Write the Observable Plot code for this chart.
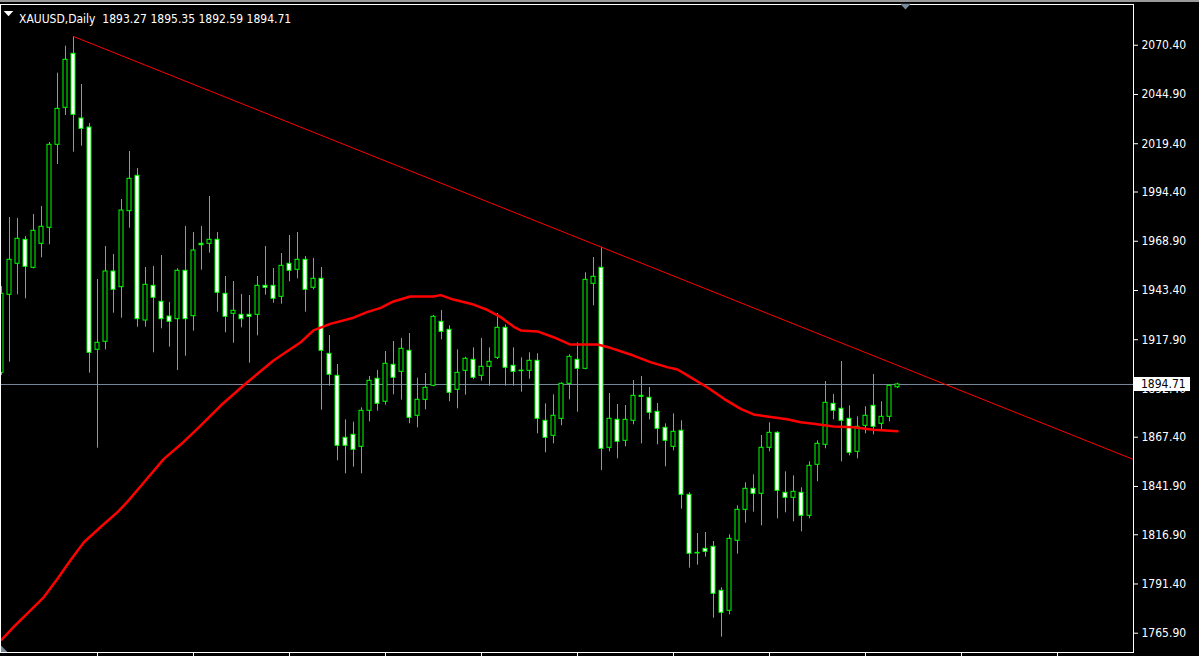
<!DOCTYPE html>
<html><head><meta charset="utf-8">
<script src="https://cdn.jsdelivr.net/npm/d3@7"></script>
<script src="https://cdn.jsdelivr.net/npm/@observablehq/plot@0.6"></script>
<style>
html,body{margin:0;padding:0;background:#000;overflow:hidden;}
#chart{position:absolute;left:0;top:0;}
#strip{position:absolute;left:0;top:0;width:1199px;height:2px;background:#9a9a9a;}
</style></head><body>
<div id="chart"></div><div id="strip"></div>
<script>
const symbol = "XAUUSD,Daily";
const opens = [1900.76,1941.16,1957.22,1969.65,1955.15,1967.57,1975.86,2018.85,2038.01,2065.98,2032.47,2027.81,1912.68,1916.82,1953.23,1945.10,1984.46,2002.79,1927.85,1945.82,1937.54,1929.92,1928.53,1953.59,1930.08,1967.57,1967.57,1969.65,1941.68,1931.32,1930.80,1930.80,1930.80,1945.82,1945.82,1940.13,1957.22,1954.11,1959.29,1944.79,1949.45,1910.61,1899.21,1867.10,1868.66,1862.44,1881.09,1897.66,1885.75,1904.91,1901.28,1912.16,1878.50,1886.78,1894.03,1927.18,1923.04,1891.96,1901.80,1907.50,1899.21,1903.87,1908.53,1924.07,1904.39,1901.90,1901.80,1906.98,1875.91,1868.14,1876.94,1895.07,1907.50,1902.84,1946.86,1955.15,1861.92,1876.42,1865.55,1875.91,1888.85,1887.82,1880.57,1872.28,1862.44,1870.73,1837.58,1807.54,1809.61,1810.65,1787.86,1777.51,1813.76,1829.81,1840.69,1838.10,1861.92,1869.69,1838.62,1836.03,1838.62,1826.71,1853.12,1863.48,1884.71,1882.12,1876.94,1859.85,1873.32,1883.68,1874.35,1877.98,1893.27];
const highs = [1945.46,1981.20,1980.68,1971.36,1982.75,1986.89,2020.04,2055.93,2069.91,2074.94,2050.08,2029.88,1949.09,1966.18,1962.03,1990.52,2015.38,2006.57,1955.30,1955.82,1961.52,1937.17,1954.63,1976.53,1973.43,1976.53,1992.07,1973.43,1950.64,1948.05,1941.32,1940.80,1950.64,1966.18,1954.78,1962.55,1971.87,1973.43,1961.00,1959.96,1955.30,1920.08,1905.06,1876.42,1875.18,1882.64,1898.85,1901.96,1911.80,1916.98,1918.53,1921.12,1897.97,1900.40,1930.44,1933.03,1925.11,1912.68,1908.85,1913.71,1918.53,1913.71,1931.48,1925.62,1913.71,1908.53,1911.12,1910.61,1884.71,1889.37,1895.59,1910.09,1916.30,1952.56,1960.48,1965.81,1890.05,1884.35,1883.83,1896.78,1898.85,1893.15,1884.87,1874.35,1879.53,1875.91,1838.62,1817.54,1818.06,1813.40,1789.42,1816.87,1831.88,1843.80,1847.94,1868.29,1874.87,1870.21,1849.49,1847.42,1841.21,1854.67,1865.55,1896.26,1889.53,1906.62,1883.68,1877.98,1883.16,1899.89,1885.75,1894.55,1895.35];
const lows = [1899.37,1906.26,1941.16,1939.09,1954.63,1960.32,1967.06,2008.64,2034.02,2015.01,2018.12,1900.56,1861.72,1912.68,1931.63,1929.04,1975.65,1924.38,1924.38,1911.12,1923.55,1914.02,1901.96,1909.36,1922.31,1953.90,1962.71,1932.15,1921.48,1916.10,1924.07,1905.74,1919.93,1940.95,1936.81,1936.29,1947.89,1949.45,1932.15,1943.75,1881.40,1893.83,1855.19,1848.46,1851.88,1848.46,1875.39,1880.88,1883.99,1889.37,1886.58,1874.35,1872.28,1881.60,1893.51,1917.85,1885.75,1882.12,1889.16,1897.14,1896.42,1893.83,1907.65,1893.83,1893.83,1890.72,1897.45,1869.17,1859.33,1863.99,1873.32,1886.78,1880.36,1902.32,1935.46,1850.17,1859.85,1856.22,1862.44,1873.83,1863.99,1876.42,1863.48,1852.08,1860.37,1830.12,1799.57,1801.12,1805.27,1773.67,1763.83,1775.43,1806.82,1822.87,1828.57,1821.53,1859.85,1825.15,1828.26,1823.60,1818.42,1825.15,1844.32,1861.41,1876.42,1854.67,1857.78,1856.22,1869.17,1868.66,1871.25,1875.39,1892.59];
const closes = [1941.68,1959.29,1970.17,1955.66,1974.31,1976.38,2018.85,2037.49,2062.87,2034.38,2027.13,1911.12,1916.30,1953.23,1943.75,1984.82,2001.24,1928.53,1946.34,1939.61,1928.53,1927.18,1953.59,1928.53,1964.10,1966.85,1969.65,1942.20,1929.77,1932.88,1928.53,1929.77,1945.82,1944.79,1939.09,1956.18,1953.59,1959.29,1943.75,1949.45,1912.16,1899.73,1862.96,1862.96,1860.89,1881.09,1896.62,1884.71,1905.43,1898.18,1913.20,1877.46,1886.78,1893.00,1929.77,1922.00,1890.41,1900.76,1908.02,1898.18,1903.87,1906.46,1924.07,1903.36,1901.28,1901.60,1906.98,1876.94,1867.10,1878.50,1895.07,1909.05,1902.84,1948.93,1950.48,1861.41,1876.94,1865.03,1876.42,1888.85,1888.33,1880.05,1871.76,1865.55,1870.21,1837.58,1807.03,1807.20,1808.06,1786.31,1776.47,1814.79,1829.81,1840.69,1838.10,1861.92,1869.69,1839.65,1836.03,1839.13,1826.71,1852.60,1863.99,1885.23,1881.09,1875.91,1859.33,1872.80,1878.50,1872.80,1877.98,1894.03,1894.71];
const maIdx = [0,1.5,5.3,7,8.6,10.3,12.6,14.5,15.7,18,20.3,22.4,24.7,27.4,30.5,34,37.4,39,41.1,44,45.7,47.4,49,51.1,54,54.9,56.5,59,60.7,62.4,64,64.9,67,69,70.7,71.1,74.5,76.1,79,81.1,83.2,84.5,86.1,88.2,90.3,92.4,94,95.7,98.2,99.9,101.5,104,106.5,109,112];
const maVal = [1762.5,1769.0,1784.6,1794.1,1803.6,1813.0,1821.7,1828.6,1833.8,1845.0,1856.2,1863.6,1872.6,1883.8,1895.1,1907.1,1916.6,1922.7,1926.1,1929.3,1932.2,1934.4,1937.7,1940.3,1940.3,1941.0,1938.7,1936.1,1933.4,1929.6,1924.7,1922.7,1922.2,1919.2,1916.1,1915.4,1915.4,1913.7,1909.7,1906.3,1903.7,1902.5,1898.5,1893.3,1887.3,1882.1,1879.2,1878.1,1876.7,1875.2,1874.4,1873.0,1872.6,1871.3,1870.5];
const trendIdx = [9, 75];
const trendPrice = [2074.94, 1965.81];
const yTicks = [2070.40,2044.90,2019.40,1994.40,1968.90,1943.40,1917.90,1892.40,1867.40,1841.90,1816.90,1791.40,1765.90];
const xTicks = [12,24,36,48,60,72,84,96,108,120,132];

const n = opens.length;
const candles = d3.range(n).map(i => ({i, o: opens[i], h: highs[i], l: lows[i], c: closes[i]}));
const last = candles[n - 1];
const xDomain = [-0.125, 141.5];
const slope = (trendPrice[1] - trendPrice[0]) / (trendIdx[1] - trendIdx[0]);
const trend = [
  {i: trendIdx[0], p: trendPrice[0]},
  {i: xDomain[1], p: trendPrice[0] + slope * (xDomain[1] - trendIdx[0])}
];
const ma = maIdx.map((i, k) => ({i, p: maVal[k]}));
const downTri = {draw(ctx, size) { const s = Math.sqrt(size); ctx.moveTo(-s * 0.6, -s * 0.3); ctx.lineTo(s * 0.6, -s * 0.3); ctx.lineTo(0, s * 0.35); ctx.closePath(); }};
const cornerTri = {draw(ctx, size) { const s = Math.sqrt(size); ctx.moveTo(0, 0); ctx.lineTo(0, -s); ctx.lineTo(s, 0); ctx.closePath(); }};
const lime = "#00ff00";
const SP = "\u00a0";
const title = `${symbol}${SP}${SP}${last.o.toFixed(2)}${SP}${last.h.toFixed(2)}${SP}${last.l.toFixed(2)}${SP}${last.c.toFixed(2)}`;
const FONT = "'DejaVu Sans Condensed', 'DejaVu Sans', sans-serif";

const chart = Plot.plot({
  width: 1199, height: 656,
  marginLeft: 0, marginRight: 66, marginTop: 4, marginBottom: 4,
  style: {background: "#000", color: "#fff", fontFamily: FONT, fontSize: "12px", fontStretch: "condensed", overflow: "visible"},
  x: {domain: xDomain, axis: null},
  y: {domain: [1755.91, 2091.51], axis: null},
  color: {type: "identity"},
  marks: [
    Plot.ruleY([last.c], {stroke: "#778899", strokeWidth: 1}),
    Plot.ruleX(candles, {x: "i", y1: "l", y2: "h", stroke: lime, strokeWidth: 1}),
    Plot.rect(candles, {x1: d => d.i - 0.25, x2: d => d.i + 0.25, y1: "o", y2: "c", fill: d => d.c >= d.o ? "#000000" : "#ffffff", stroke: lime, strokeWidth: 1}),
    Plot.line(ma, {x: "i", y: "p", stroke: "#ff0000", strokeWidth: 2.5}),
    Plot.line(trend, {x: "i", y: "p", stroke: "#ff0000", strokeWidth: 1}),
    Plot.frame({stroke: "#ffffff"}),
    Plot.axisY({anchor: "right", label: null, ticks: yTicks, tickFormat: d => d.toFixed(2), tickSize: 4, tickPadding: 4, stroke: "#ffffff", fill: "#ffffff"}),
    Plot.axisX({anchor: "bottom", label: null, ticks: xTicks, tickFormat: () => "", tickSize: 4, stroke: "#ffffff"}),
    Plot.text([title], {text: d => d, frameAnchor: "top-left", dx: 18.5, dy: 10, fill: "#ffffff", textAnchor: "start"}),
    Plot.dot([0], {frameAnchor: "top-left", dx: 8, dy: 9, symbol: downTri, r: 4.5, fill: "#ffffff", stroke: null}),
    Plot.dot([n], {x: d => d, frameAnchor: "top", dy: 2, symbol: downTri, r: 5, fill: "#778899", stroke: null}),
    Plot.dot([0], {frameAnchor: "bottom-left", dx: 0.5, dy: -0.5, symbol: cornerTri, r: 3.6, fill: "#778899", stroke: null})
  ]
});
document.getElementById("chart").appendChild(chart);

const yy = chart.scale("y").apply(last.c);
const g = d3.select(chart).append("g");
g.append("rect").attr("x", 1134).attr("y", Math.round(yy) - 7).attr("width", 56).attr("height", 14).attr("fill", "#ffffff");
g.append("text").attr("x", 1141).attr("y", yy).attr("dy", "0.35em").attr("fill", "#000000").attr("text-anchor", "start")
  .attr("font-family", FONT).attr("font-size", "12px").text(last.c.toFixed(2));
</script>
</body></html>
